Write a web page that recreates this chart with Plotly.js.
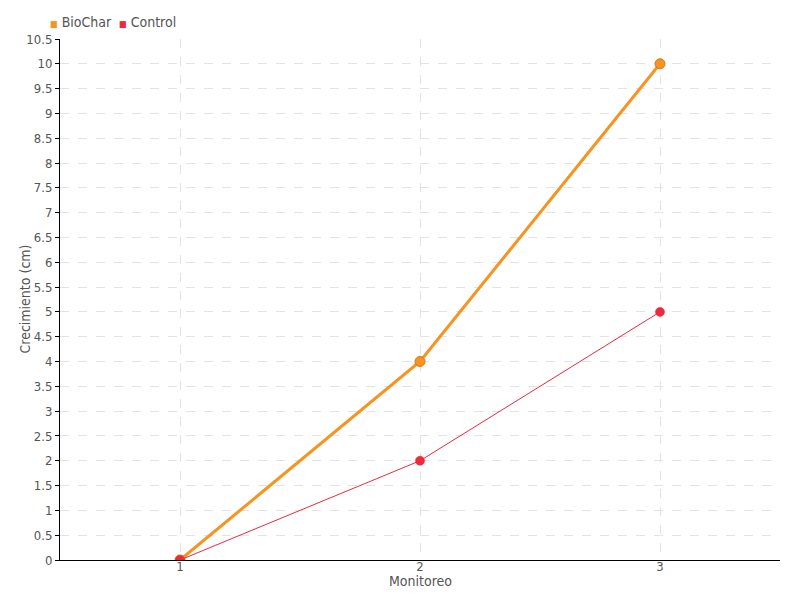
<!DOCTYPE html>
<html><head><meta charset="utf-8">
<script src="https://cdn.plot.ly/plotly-3.0.1.min.js"></script>
<style>body{margin:0;}#c{width:800px;height:600px;}</style>
</head><body><div id="c"></div>
<script>
var categories = ['1', '2', '3'];
var biochar = [0, 4, 10];
var control = [0, 2, 5];
var seriesNames = ['BioChar', 'Control'];
var yTicks = [0,0.5,1,1.5,2,2.5,3,3.5,4,4.5,5,5.5,6,6.5,7,7.5,8,8.5,9,9.5,10,10.5];

var font = '"DejaVu Sans Condensed", "Liberation Sans Narrow", sans-serif';
var orange = '#f7931e', red = '#f0283c';
var traces = [
  {x: categories, y: biochar, mode: 'lines+markers', name: seriesNames[0], showlegend: false,
   line: {color: orange, width: 3}, marker: {color: orange, size: 10, line: {color: '#d2781e', width: 1}}},
  {x: categories, y: control, mode: 'lines+markers', name: seriesNames[1], showlegend: false,
   line: {color: red, width: 1}, marker: {color: red, size: 9, line: {color: '#e0202e', width: 0.5}}}
];
var colors = [orange, red];
var legendX = [48, 117];
var annotations = seriesNames.map(function (n, i) {
  return {xref: 'paper', yref: 'paper', x: (legendX[i] - 60) / 720, y: 1 + (39 - 22) / 521,
          xanchor: 'left', yanchor: 'middle', showarrow: false,
          text: '<span style="color:' + colors[i] + ';font-size:9px">■</span> ' + n,
          font: {size: 14, color: '#555'}};
});
annotations.push({xref: 'paper', yref: 'paper', x: (24 - 60) / 720, y: 0.5, xanchor: 'center', yanchor: 'middle',
  textangle: -90, showarrow: false, text: 'Crecimiento (cm)', font: {size: 14, color: '#555'}});
annotations.push({xref: 'paper', yref: 'paper', x: 0.5, y: -(581 - 560) / 521, xanchor: 'center', yanchor: 'middle',
  showarrow: false, text: 'Monitoreo', font: {size: 14, color: '#555'}});

var layout = {
  width: 800, height: 600,
  margin: {l: 60, r: 20, t: 39, b: 40},
  paper_bgcolor: '#fff', plot_bgcolor: '#fff',
  font: {family: font, size: 14, color: '#555'},
  showlegend: false,
  annotations: annotations,
  xaxis: {type: 'category', range: [-0.5, 2.5], showline: true, linecolor: '#000', linewidth: 1,
          ticks: '', ticklabelstandoff: -6, tickfont: {size: 13, color: '#555'},
          showgrid: true, gridcolor: '#e3e3e3', griddash: 'dash', zeroline: false},
  yaxis: {range: [0, 10.5], tickvals: yTicks, ticktext: yTicks.map(String), showline: true, linecolor: '#000', linewidth: 1,
          ticks: 'outside', ticklen: 4, tickcolor: '#000', showgrid: true, gridcolor: '#e3e3e3', griddash: 'dash',
          zeroline: false, tickfont: {size: 13, color: '#555'}}
};
Plotly.newPlot('c', traces, layout, {displayModeBar: false});
</script></body></html>
